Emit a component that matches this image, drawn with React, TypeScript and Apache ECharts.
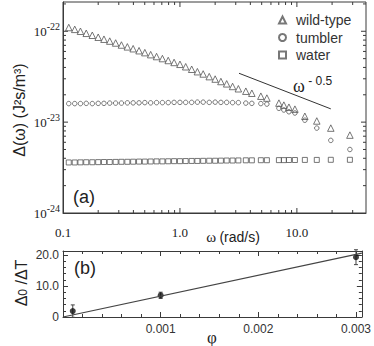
import React, { useEffect, useRef } from 'react';
import * as echarts from 'echarts';

// ---- panel (a): Δ(ω) in J²s/m³ versus ω in rad/s ----
const omega = [
  0.112, 0.126, 0.141, 0.158, 0.178, 0.2, 0.224, 0.251, 0.282, 0.316,
  0.355, 0.398, 0.447, 0.501, 0.562, 0.631, 0.708, 0.794, 0.891, 1.0,
  1.12, 1.26, 1.41, 1.58, 1.78, 2.0, 2.24, 2.51, 2.82, 3.16,
  3.66, 4.12, 4.92, 5.54, 7.02, 7.74, 8.55, 9.62, 11.7, 14.8, 19.5, 28.4,
];
const wildType = [
  11.0e-23, 10.5e-23, 10.0e-23, 9.5e-23, 9.04e-23, 8.6e-23, 8.18e-23, 7.8e-23, 7.43e-23, 7.06e-23,
  6.74e-23, 6.43e-23, 6.11e-23, 5.82e-23, 5.53e-23, 5.27e-23, 5.01e-23, 4.77e-23, 4.54e-23, 4.33e-23,
  4.07e-23, 3.82e-23, 3.59e-23, 3.39e-23, 3.17e-23, 2.98e-23, 2.8e-23, 2.64e-23, 2.47e-23, 2.33e-23,
  2.19e-23, 2.08e-23, 1.93e-23, 1.84e-23, 1.62e-23, 1.54e-23, 1.46e-23, 1.39e-23, 1.16e-23, 1.03e-23, 0.86e-23, 0.72e-23,
];
const tumbler = [
  1.6e-23, 1.6e-23, 1.6e-23, 1.61e-23, 1.6e-23, 1.61e-23, 1.61e-23, 1.62e-23, 1.62e-23, 1.62e-23,
  1.63e-23, 1.63e-23, 1.63e-23, 1.64e-23, 1.63e-23, 1.64e-23, 1.64e-23, 1.64e-23, 1.65e-23, 1.65e-23,
  1.65e-23, 1.65e-23, 1.66e-23, 1.66e-23, 1.65e-23, 1.66e-23, 1.65e-23, 1.65e-23, 1.64e-23, 1.64e-23,
  1.62e-23, 1.61e-23, 1.6e-23, 1.58e-23, 1.42e-23, 1.36e-23, 1.3e-23, 1.26e-23, 1.05e-23, 0.86e-23, 0.63e-23, 0.5e-23,
];
const water = [
  3.6e-24, 3.6e-24, 3.61e-24, 3.62e-24, 3.62e-24, 3.63e-24, 3.64e-24, 3.64e-24, 3.65e-24, 3.66e-24,
  3.66e-24, 3.67e-24, 3.68e-24, 3.68e-24, 3.69e-24, 3.7e-24, 3.7e-24, 3.71e-24, 3.72e-24, 3.72e-24,
  3.73e-24, 3.74e-24, 3.74e-24, 3.75e-24, 3.76e-24, 3.76e-24, 3.77e-24, 3.78e-24, 3.78e-24, 3.79e-24,
  3.8e-24, 3.8e-24, 3.81e-24, 3.81e-24, 3.82e-24, 3.82e-24, 3.83e-24, 3.83e-24, 3.84e-24, 3.84e-24, 3.85e-24, 3.85e-24,
];
const slopeOmega = [3.2, 19.5];
const slopeDelta = [3.45e-23, 1.4e-23];
const xTickValues = [0.2, 0.3, 0.4, 0.5, 0.6, 0.7, 0.8, 0.9, 1, 2, 3, 4, 5, 6, 7, 8, 9, 10, 20, 30];
const yTickValues = [
  2e-24, 3e-24, 4e-24, 5e-24, 6e-24, 7e-24, 8e-24, 9e-24, 1e-23,
  2e-23, 3e-23, 4e-23, 5e-23, 6e-23, 7e-23, 8e-23, 9e-23, 1e-22, 2e-22,
];
const yRange = [1e-24, 2.1e-22];
const xRange = [0.1, 39];
const seriesNames = ['wild-type', 'tumbler', 'water'];

// ---- panel (b): Δ0/ΔT versus φ ----
const phi = [0.0001, 0.001, 0.003];
const ratio = [1.9, 7.0, 19.3];
const ratioErr = [2.0, 1.0, 2.4];
const fitPhi = [0, 0.00306];
const fitRatio = [0, 20.6];

// the log axis works in units of 1e-24 J²s/m³ (ECharts rounds tiny raw numbers to 0)
const UNIT_EXP = -24;
const UNIT = 1e-24;
const u = (v: number) => v / UNIT;

const AX = '#3a3a3a';
const MK = '#555';
const SANS = "'Liberation Sans', Arial, sans-serif";
const SERIF = "'Liberation Serif', 'Times New Roman', serif";

const isPow10 = (v: number) => {
  const l = Math.log10(v);
  return Math.abs(l - Math.round(l)) < 1e-6;
};

export default function App() {
  const ref = useRef<HTMLDivElement>(null);
  useEffect(() => {
    if (!ref.current) return;
    const chart = echarts.init(ref.current, undefined, { renderer: 'svg' });
    const axisCommon = {
      axisLine: { show: true, onZero: false, lineStyle: { color: AX, width: 1 } },
      axisTick: { show: true, inside: true, length: 5, lineStyle: { color: AX } },
      splitLine: { show: false },
    };
    const hollow = { color: 'rgba(255,255,255,0)', borderColor: MK, borderWidth: 1 };
    const tickStyle = { stroke: AX, lineWidth: 1 };

    const ticksX = {
      type: 'custom',
      xAxisIndex: 0,
      yAxisIndex: 0,
      silent: true,
      clip: false,
      encode: { x: 0, y: 1 },
      data: xTickValues.map((v) => [v, 10]),
      renderItem: (params: any, api: any) => {
        const cs = params.coordSys;
        const v = api.value(0);
        const p = api.coord([v, api.value(1)]);
        const len = isPow10(v) ? 5 : 3;
        return {
          type: 'group',
          children: [
            { type: 'line', shape: { x1: p[0], y1: cs.y + cs.height, x2: p[0], y2: cs.y + cs.height - len }, style: tickStyle },
            { type: 'line', shape: { x1: p[0], y1: cs.y, x2: p[0], y2: cs.y + len }, style: tickStyle },
          ],
        };
      },
    };
    const ticksY = {
      type: 'custom',
      xAxisIndex: 0,
      yAxisIndex: 0,
      silent: true,
      clip: false,
      encode: { x: 0, y: 1 },
      data: yTickValues.map((v) => [1, u(v)]),
      renderItem: (params: any, api: any) => {
        const cs = params.coordSys;
        const v = api.value(1);
        const p = api.coord([api.value(0), v]);
        const len = isPow10(v) ? 5 : 3;
        return {
          type: 'group',
          children: [
            { type: 'line', shape: { x1: cs.x, y1: p[1], x2: cs.x + len, y2: p[1] }, style: tickStyle },
            { type: 'line', shape: { x1: cs.x + cs.width, y1: p[1], x2: cs.x + cs.width - len, y2: p[1] }, style: tickStyle },
          ],
        };
      },
    };

    const graphics: any[] = [
      {
        type: 'text',
        x: 19,
        y: 110,
        rotation: Math.PI / 2,
        style: {
          text: 'Δ(ω) (J²s/m³)',
          fontSize: 16,
          fontFamily: SANS,
          fill: '#222',
          align: 'center',
          verticalAlign: 'middle',
        },
      },
      {
        type: 'text',
        x: 21,
        y: 283,
        rotation: Math.PI / 2,
        style: {
          text: '{a|Δ}{s|0}{a| /ΔT}',
          align: 'center',
          verticalAlign: 'middle',
          rich: {
            a: { fontSize: 16, fontFamily: SANS, fill: '#222' },
            s: { fontSize: 12, fontFamily: SANS, fill: '#222', padding: [3, 0, 0, 0] },
          },
        },
      },
      {
        type: 'text',
        x: 84,
        y: 197,
        style: { text: '(a)', fontSize: 18, fontFamily: SANS, fill: '#222', align: 'center', verticalAlign: 'middle' },
      },
      {
        type: 'text',
        x: 85,
        y: 268,
        style: { text: '(b)', fontSize: 18, fontFamily: SANS, fill: '#222', align: 'center', verticalAlign: 'middle' },
      },
      {
        type: 'text',
        x: 233,
        y: 237,
        style: {
          text: '{w|ω} {r|(rad/s)}',
          align: 'center',
          verticalAlign: 'middle',
          rich: {
            w: { fontSize: 15, fontFamily: SERIF, fill: '#222' },
            r: { fontSize: 14, fontFamily: SANS, fill: '#222' },
          },
        },
      },
      {
        type: 'text',
        x: 212,
        y: 337,
        style: { text: 'φ', fontSize: 17, fontFamily: SERIF, fill: '#222', align: 'center', verticalAlign: 'middle' },
      },
      {
        type: 'text',
        x: 293,
        y: 86,
        style: {
          text: '{w|ω}{s| - 0.5}',
          align: 'left',
          verticalAlign: 'middle',
          rich: {
            w: { fontSize: 18, fontFamily: SERIF, fill: '#222' },
            s: { fontSize: 12, fontFamily: SANS, fill: '#222', padding: [0, 0, 10, 0] },
          },
        },
      },
    ];

    const option: any = {
      animation: false,
      grid: [
        { left: 63, top: 2, width: 303, height: 211, show: true, borderColor: AX, borderWidth: 1, backgroundColor: 'transparent' },
        { left: 63, top: 251, width: 301, height: 66 },
      ],
      legend: {
        data: seriesNames,
        orient: 'vertical',
        left: 273,
        top: 8,
        itemWidth: 7,
        itemHeight: 7,
        itemGap: 3.5,
        textStyle: { fontSize: 14, fontFamily: SANS, color: '#333', padding: [0, 0, 0, 5] },
      },
      xAxis: [
        {
          ...axisCommon,
          axisTick: { show: false },
          type: 'log',
          logBase: 10,
          gridIndex: 0,
          min: xRange[0],
          max: xRange[1],
          axisLabel: {
            margin: 13,
            fontSize: 13,
            fontFamily: SERIF,
            color: '#222',
            formatter: (v: number) => (isPow10(v) ? Number(v).toFixed(1) : ''),
          },
        },
        {
          ...axisCommon,
          type: 'value',
          gridIndex: 1,
          min: 0,
          max: 0.00306,
          interval: 0.001,
          minorTick: { show: true, splitNumber: 5, length: 3, lineStyle: { color: AX } },
          minorSplitLine: { show: false },
          axisLabel: {
            margin: 6,
            fontSize: 12,
            fontFamily: SANS,
            color: '#333',
            formatter: (v: number) => {
              const k = v / 0.001;
              return v > 0 && Math.abs(k - Math.round(k)) < 1e-6 ? v.toFixed(3) : '';
            },
          },
        },
        {
          ...axisCommon,
          type: 'value',
          gridIndex: 1,
          position: 'top',
          min: 0,
          max: 0.00306,
          interval: 0.001,
          minorTick: { show: true, splitNumber: 5, length: 3, lineStyle: { color: AX } },
          axisLabel: { show: false },
        },
      ],
      yAxis: [
        {
          ...axisCommon,
          axisTick: { show: false },
          type: 'log',
          logBase: 10,
          gridIndex: 0,
          min: u(yRange[0]),
          max: u(yRange[1]),
          axisLabel: {
            margin: 3,
            formatter: (v: number) =>
              isPow10(v) ? `{b|10}{s|${Math.round(Math.log10(v)) + UNIT_EXP}}` : '',
            rich: {
              b: { fontSize: 13, fontFamily: SERIF, color: '#222' },
              s: { fontSize: 10, fontFamily: SERIF, color: '#222', padding: [0, 0, 9, 0] },
            },
          },
        },
        {
          ...axisCommon,
          type: 'value',
          gridIndex: 1,
          min: 0,
          max: 21.3,
          interval: 10,
          minorTick: { show: true, splitNumber: 5, length: 3, lineStyle: { color: AX } },
          minorSplitLine: { show: false },
          axisLabel: {
            margin: 4,
            fontSize: 12,
            fontFamily: SANS,
            color: '#333',
            formatter: (v: number) => (v === 0 ? '0' : v % 10 === 0 ? v.toFixed(1) : ''),
          },
        },
        {
          ...axisCommon,
          type: 'value',
          gridIndex: 1,
          position: 'right',
          min: 0,
          max: 21.3,
          interval: 10,
          minorTick: { show: true, splitNumber: 5, length: 3, lineStyle: { color: AX } },
          axisLabel: { show: false },
        },
      ],
      series: [
        {
          name: seriesNames[0],
          type: 'scatter',
          xAxisIndex: 0,
          yAxisIndex: 0,
          symbol: 'triangle',
          symbolSize: 6.5,
          itemStyle: hollow,
          data: omega.map((w, i) => [w, u(wildType[i])]),
        },
        {
          name: seriesNames[1],
          type: 'scatter',
          xAxisIndex: 0,
          yAxisIndex: 0,
          symbol: 'circle',
          symbolSize: 4.5,
          itemStyle: hollow,
          data: omega.map((w, i) => [w, u(tumbler[i])]),
        },
        {
          name: seriesNames[2],
          type: 'scatter',
          xAxisIndex: 0,
          yAxisIndex: 0,
          symbol: 'rect',
          symbolSize: 5,
          itemStyle: hollow,
          data: omega.map((w, i) => [w, u(water[i])]),
        },
        {
          type: 'line',
          xAxisIndex: 0,
          yAxisIndex: 0,
          symbol: 'none',
          lineStyle: { color: '#333', width: 1 },
          data: slopeOmega.map((w, i) => [w, u(slopeDelta[i])]),
        },
        ticksX,
        ticksY,
        {
          type: 'line',
          xAxisIndex: 1,
          yAxisIndex: 1,
          symbol: 'none',
          lineStyle: { color: '#444', width: 1.2 },
          data: fitPhi.map((p, i) => [p, fitRatio[i]]),
        },
        {
          type: 'custom',
          xAxisIndex: 1,
          yAxisIndex: 1,
          clip: false,
          encode: { x: 0, y: [1, 2] },
          data: phi.map((p, i) => [p, ratio[i] - ratioErr[i], ratio[i] + ratioErr[i]]),
          renderItem: (params: any, api: any) => {
            const a = api.coord([api.value(0), api.value(1)]);
            const b = api.coord([api.value(0), api.value(2)]);
            const st = { stroke: '#444', lineWidth: 1 };
            return {
              type: 'group',
              children: [
                { type: 'line', shape: { x1: a[0], y1: a[1], x2: b[0], y2: b[1] }, style: st },
                { type: 'line', shape: { x1: a[0] - 2, y1: a[1], x2: a[0] + 2, y2: a[1] }, style: st },
                { type: 'line', shape: { x1: b[0] - 2, y1: b[1], x2: b[0] + 2, y2: b[1] }, style: st },
              ],
            };
          },
        },
        {
          type: 'scatter',
          xAxisIndex: 1,
          yAxisIndex: 1,
          symbol: 'circle',
          symbolSize: 6,
          itemStyle: { color: '#111' },
          data: phi.map((p, i) => [p, ratio[i]]),
        },
      ],
      graphic: graphics,
    };
    chart.setOption(option);
    return () => chart.dispose();
  }, []);
  return <div ref={ref} style={{ position: 'absolute', left: 0, top: 0, width: 374, height: 346 }} />;
}
